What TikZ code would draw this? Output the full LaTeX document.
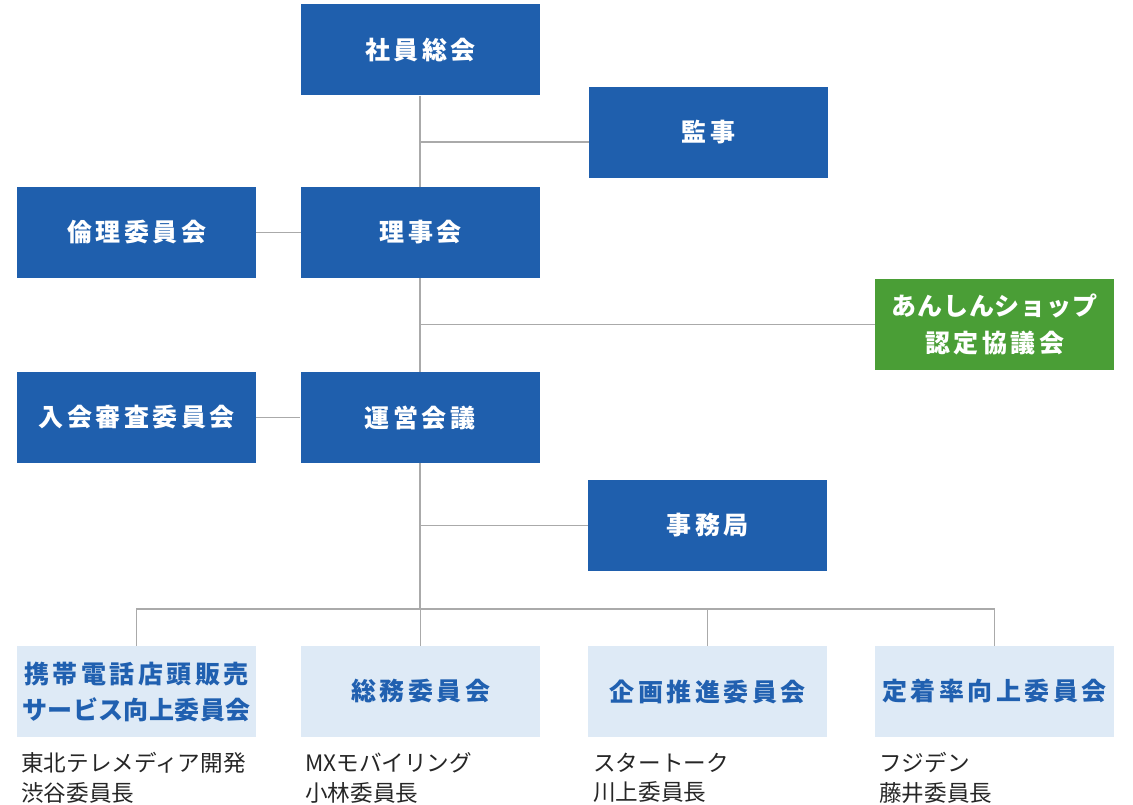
\documentclass[tikz,border=0pt]{standalone}
\usepackage{fontspec}
\setmainfont{Noto Sans CJK JP}
\newfontfamily\boxfont{Noto Sans CJK JP}[LetterSpace=14]
\newfontfamily\boxfontn{Noto Sans CJK JP}[LetterSpace=2]
\newfontfamily\boxfontk{Noto Sans CJK JP}[LetterSpace=3]
\usetikzlibrary{calc}
\definecolor{dblue}{HTML}{1F5FAD}
\definecolor{lblue}{HTML}{DEEAF6}
\definecolor{tblue}{HTML}{2060B0}
\definecolor{dgreen}{HTML}{4A9E36}
\definecolor{lgray}{HTML}{AAAAAA}
\tikzset{
  boxbase/.style={minimum width=239pt, minimum height=91pt, inner sep=0pt, align=center},
  darkbox/.style={boxbase, fill=dblue, text=white, font=\boxfont\fontsize{25}{37}\selectfont\bfseries},
  greenbox/.style={boxbase, fill=dgreen, text=white, font=\boxfont\fontsize{25}{37}\selectfont\bfseries},
  lightbox/.style={boxbase, fill=lblue, text=tblue, font=\boxfont\fontsize{25}{36}\selectfont\bfseries},
  caption/.style={anchor=north west, inner sep=0pt, align=left, font=\fontsize{22.6}{29.5}\selectfont, text=black!85},
  conn/.style={draw=lgray, line width=1.6pt}
}
\begin{document}
\begin{tikzpicture}[x=1pt,y=-1pt]
\useasboundingbox (0,0) rectangle (1133,805);
\node[darkbox] (soukai) at (420.5,50) {社員総会};
\node[darkbox] (kanji) at (708.5,132.5) {監事};
\node[darkbox] (rinri) at (136.5,232.5) {倫理委員会};
\node[darkbox] (rijikai) at (420.5,232.5) {理事会};
\node[greenbox] (anshin) at (994.5,324.5) {{\boxfontk\bfseries あんしんショップ}\\認定協議会};
\node[darkbox] (nyukai) at (136.5,417.5) {入会審査委員会};
\node[darkbox] (unei) at (420,417.5) {運営会議};
\node[darkbox] (jimu) at (707.5,525.5) {事務局};
\node[lightbox] (c1) at (136.5,691.5) {携帯電話店頭販売\\{\boxfontn\bfseries サービス向上委員会}};
\node[lightbox] (c2) at (420.5,691.5) {総務委員会};
\node[lightbox] (c3) at (707.5,691.5) {企画推進委員会};
\node[lightbox] (c4) at (994.5,691.5) {定着率向上委員会};
\node[caption] (t1) at (21,752.5) {東北テレメディア開発\\渋谷委員長};
\node[caption] (t2) at (305,752.5) {MXモバイリング\\小林委員長};
\node[caption] (t3) at (593,752.5) {スタートーク\\川上委員長};
\node[caption] (t4) at (879,752.5) {フジデン\\藤井委員長};
\coordinate (bus) at (420,609);
\coordinate (kj) at (420,142);
\draw[conn] (soukai.south -| bus) -- (rijikai.north -| bus);
\draw[conn] (rijikai.south -| bus) -- (unei.north -| bus);
\draw[conn] (unei.south -| bus) -- (bus);
\draw[conn] (kj) -- (kj -| kanji.west);
\draw[conn] (rinri.east) -- (rijikai.west);
\draw[conn] (nyukai.east) -- (unei.west);
\draw[conn] (anshin.west -| bus) -- (anshin.west);
\draw[conn] (jimu.west -| bus) -- (jimu.west);
\draw[conn] (c1.north) |- (bus) -| (c4.north);
\draw[conn] (c2.north) -- (c2.north |- bus);
\draw[conn] (c3.north) -- (c3.north |- bus);
\end{tikzpicture}
\end{document}
